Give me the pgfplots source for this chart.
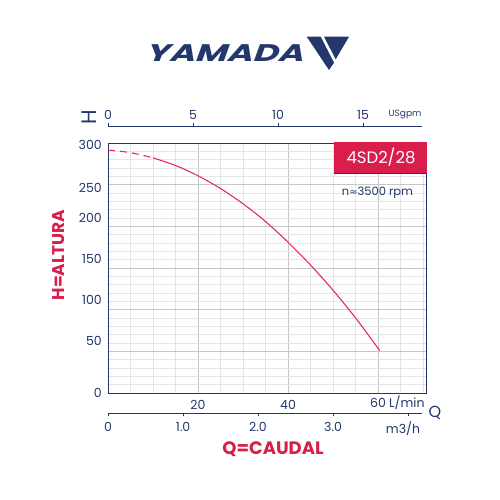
\documentclass[border=0pt]{standalone}
\usepackage{pgfplots}
\pgfplotsset{compat=1.18}
\usepackage{fontspec}
\setmainfont{Poppins}
\newfontfamily\symfont{DejaVu Sans}
\newfontfamily\logofont[FakeSlant=0.25]{Poppins}
\definecolor{navy}{HTML}{23376B}
\definecolor{yred}{HTML}{D91E4C}
\definecolor{cred}{HTML}{E42D5A}
\begin{document}
\begin{tikzpicture}[x=1pt,y=1pt]
\useasboundingbox (0,0) rectangle (500,500);
% logo
\node[navy, inner sep=0pt] at (224,447) {\scalebox{1.45}[1]{\logofont\bfseries\fontsize{24}{26}\selectfont YAMADA}};
\fill[navy] (306.7,463.3) -- (320.7,463.3) -- (334,437.3) -- (329,430) -- cycle;
\fill[navy] (324,463.3) -- (349,463.3) -- (335.7,440.7) -- cycle;
% main axis
\begin{axis}[
  at={(108pt,107pt)}, anchor=south west, scale only axis,
  width=318pt, height=250pt,
  xmin=0, xmax=70.67, ymin=0, ymax=300,
  axis line style={navy, line width=0.9pt},
  xtick={0,20,40,60}, xticklabels={},
  minor xtick={5,10,...,70},
  ytick={0,50,...,300}, yticklabels={},
  minor ytick={10,20,...,290},
  grid=both,
  major grid style={draw=black!22, line width=0.6pt},
  minor grid style={draw=black!10, line width=0.6pt},
  major tick length=0pt, minor tick length=0pt,
  extra y ticks={0,62,112,161,210,246,298},
  extra y tick labels={0,50,100,150,200,250,300},
  extra y tick style={grid=none, major tick length=0pt},
  yticklabel style={text=navy, font=\fontsize{12.5}{14}\selectfont, inner sep=0pt, xshift=-6pt},
  /pgf/number format/assume math mode=true,
  clip=false,
]
\addplot[cred, line width=1.1pt, dash pattern=on 7pt off 5pt, smooth] coordinates {(0,291.6)(5,288.4)(10,282.2)};
\addplot[cred, line width=1.1pt, smooth] coordinates {(10,282.2)(15,273.0)(20,260.7)(25,245.4)(30,227.1)(35,205.8)(40,181.0)(45,153.6)(50,123.4)(55,90.2)(60.4,50.8)};
\end{axis}
% top USgpm axis
\begin{axis}[
  at={(108pt,372.3pt)}, anchor=south west, scale only axis,
  width=314pt, height=1pt, xmin=0, xmax=18.47, ymin=0, ymax=1,
  hide y axis, axis x line*=top,
  axis line style={navy, line width=0.9pt},
  xtick={0,5,10,15}, tick align=outside, major tick length=4pt,
  tick style={navy, line width=0.9pt},
  xticklabel style={text=navy, font=\fontsize{12.5}{14}\selectfont},
  /pgf/number format/assume math mode=true,
]
\addplot[draw=none] coordinates {(0,0)(1,1)};
\end{axis}
% bottom m3/h axis
\begin{axis}[
  at={(108pt,86.7pt)}, anchor=south west, scale only axis,
  width=314pt, height=1pt, xmin=0, xmax=4.187, ymin=0, ymax=1,
  hide y axis, axis x line*=bottom,
  axis line style={navy, line width=0.9pt},
  xtick={0,1,2,3,4}, xticklabels={0,1.0,2.0,3.0,}, tick align=outside, major tick length=3pt,
  tick style={navy, line width=0.9pt},
  xticklabel style={text=navy, font=\fontsize{12.5}{14}\selectfont, yshift=-2pt},
  /pgf/number format/assume math mode=true,
]
\addplot[draw=none] coordinates {(0,0)(1,1)};
\end{axis}
% bottom L/min labels
\begin{axis}[
  at={(108pt,85.7pt)}, anchor=south west, scale only axis,
  width=314pt, height=1pt, xmin=0, xmax=69.78, ymin=0, ymax=1,
  hide y axis, axis x line*=top, axis line style={draw=none},
  xtick={20,40,60}, xticklabels={20,40,{60\rlap{ L/min}}}, major tick length=0pt,
  xticklabel style={text=navy, font=\fontsize{12.5}{14}\selectfont},
  /pgf/number format/assume math mode=true,
]
\addplot[draw=none] coordinates {(0,0)(1,1)};
\end{axis}
\node[navy, font=\fontsize{9}{11}\selectfont] at (405,385) {USgpm};
\node[navy, font=\fontsize{12.5}{14}\selectfont] at (403,71) {m3/h};
\node[navy, font=\fontsize{16}{18}\selectfont] at (435,87) {Q};
\node[navy, rotate=90, font=\fontsize{21}{23}\selectfont] at (89,383) {H};
\node[yred, rotate=90, font=\bfseries\fontsize{17}{20}\selectfont] at (59,245) {H=ALTURA};
\node[yred, font=\bfseries\fontsize{18}{20}\selectfont] at (273,50.5) {Q=CAUDAL};
% model box
\fill[yred] (334,326.7) rectangle (427,358.3);
\draw[navy, line width=0.8pt] (334,326.7) -- (427,326.7);
\node[white, font=\fontsize{16.5}{18}\selectfont] at (381,342.5) {4SD2/28};
\node[navy, font=\fontsize{11.5}{13}\selectfont] at (377.5,307) {n{\symfont\fontsize{10}{12}\selectfont ≈}3500 rpm};
\end{tikzpicture}
\end{document}
